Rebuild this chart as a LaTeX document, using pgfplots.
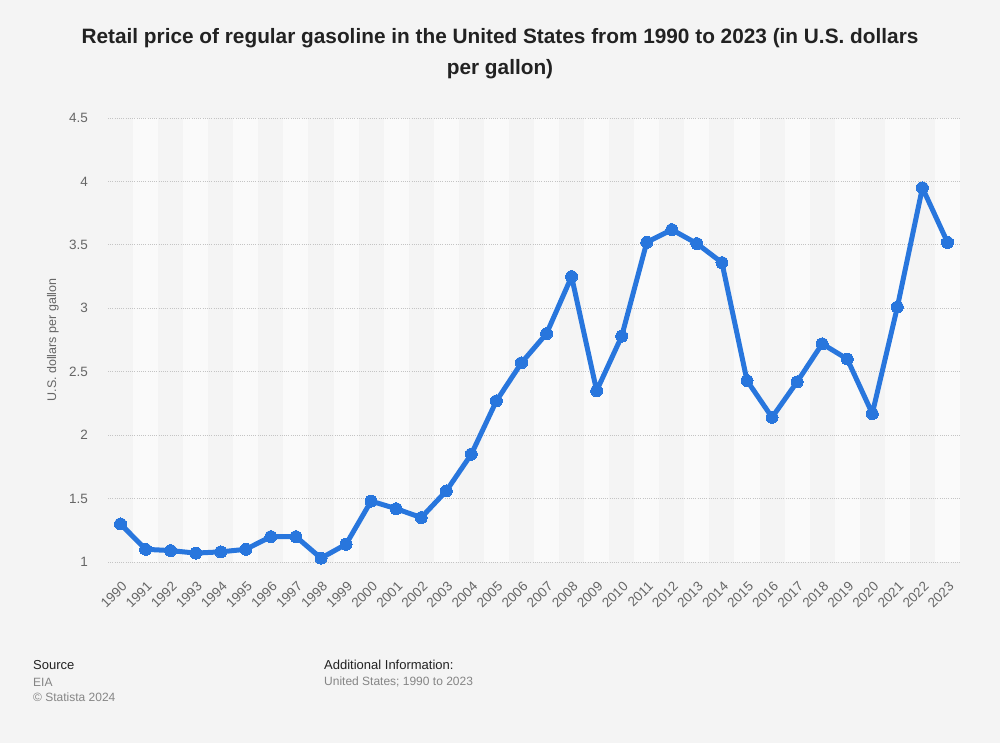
\documentclass[border=0pt]{standalone}
\usepackage{pgfplots}
\pgfplotsset{compat=1.18}
\usepackage{fontspec}
\setmainfont{Liberation Sans}

\definecolor{bg}{HTML}{F4F4F4}
\definecolor{stripe}{HTML}{FAFAFA}
\definecolor{gas}{HTML}{2876DD}
\definecolor{ticktext}{HTML}{666666}
\definecolor{gridc}{HTML}{C4C4C4}
\definecolor{titletext}{HTML}{222222}

\begin{document}
\begin{tikzpicture}[x=1pt,y=1pt]
\fill[bg] (0,0) rectangle (1000,743);
\useasboundingbox (0,0) rectangle (1000,743);

% title
\node[font=\fontsize{20.8}{24}\selectfont\bfseries, text=titletext] at (500,705) {Retail price of regular gasoline in the United States from 1990 to 2023 (in U.S. dollars};
\node[font=\fontsize{20.8}{24}\selectfont\bfseries, text=titletext] at (500,674) {per gallon)};

% y label
\node[rotate=90, font=\fontsize{12.5}{14}\selectfont, text=ticktext] at (53,403) {U.S. dollars per gallon};

\begin{axis}[
    at={(108pt,181pt)}, anchor=south west,
    scale only axis, width=852pt, height=444pt,
    xmin=1989.5, xmax=2023.5,
    ymin=1, ymax=4.5,
    xtick={1990,1991,...,2023},
    ytick={1,1.5,...,4.5},
    axis line style={draw=none},
    major tick length=0pt,
    /pgf/number format/1000 sep={},
    /pgf/number format/assume math mode=true,
    tick label style={font=\fontsize{13.5}{15}\selectfont, text=ticktext},
    xticklabel style={inner sep=0pt, xshift=4pt, yshift=-22pt, rotate=45, anchor=east},
    yticklabel style={inner sep=0pt, anchor=east, xshift=-20pt},
    clip=false,
]
% alternating column stripes
\pgfplotsinvokeforeach{1990.5,1992.5,...,2022.5}{
  \fill[stripe] (axis cs:#1,1) rectangle ++(axis direction cs:1,3.5);
}
% dotted horizontal grid
\pgfplotsinvokeforeach{1,1.5,...,4.5}{
  \draw[gridc, line width=0.8pt, dash pattern=on 1pt off 1.2pt] (axis cs:1989.5,#1) -- (axis cs:2023.5,#1);
}
\addplot[gas, line width=5pt, line join=round, mark=*, mark size=6pt,
  mark options={fill=gas, draw=gas, line width=0pt}] coordinates {
  (1990,1.30) (1991,1.10) (1992,1.09) (1993,1.07) (1994,1.08)
  (1995,1.10) (1996,1.20) (1997,1.20) (1998,1.03) (1999,1.14)
  (2000,1.48) (2001,1.42) (2002,1.35) (2003,1.56) (2004,1.85)
  (2005,2.27) (2006,2.57) (2007,2.80) (2008,3.25) (2009,2.35)
  (2010,2.78) (2011,3.52) (2012,3.62) (2013,3.51) (2014,3.36)
  (2015,2.43) (2016,2.14) (2017,2.42) (2018,2.72) (2019,2.60)
  (2020,2.17) (2021,3.01) (2022,3.95) (2023,3.52)
};
\end{axis}

% footer
\node[anchor=west, inner sep=0pt, font=\fontsize{13}{15}\selectfont, text=titletext] at (33,78) {Source};
\node[anchor=west, inner sep=0pt, font=\fontsize{12}{14}\selectfont, text=ticktext!80] at (33,61) {EIA};
\node[anchor=west, inner sep=0pt, font=\fontsize{12}{14}\selectfont, text=ticktext!80] at (33,46) {© Statista 2024};
\node[anchor=west, inner sep=0pt, font=\fontsize{13}{15}\selectfont, text=titletext] at (324,78) {Additional Information:};
\node[anchor=west, inner sep=0pt, font=\fontsize{12}{14}\selectfont, text=ticktext!80] at (324,61) {United States; 1990 to 2023};
\end{tikzpicture}
\end{document}
